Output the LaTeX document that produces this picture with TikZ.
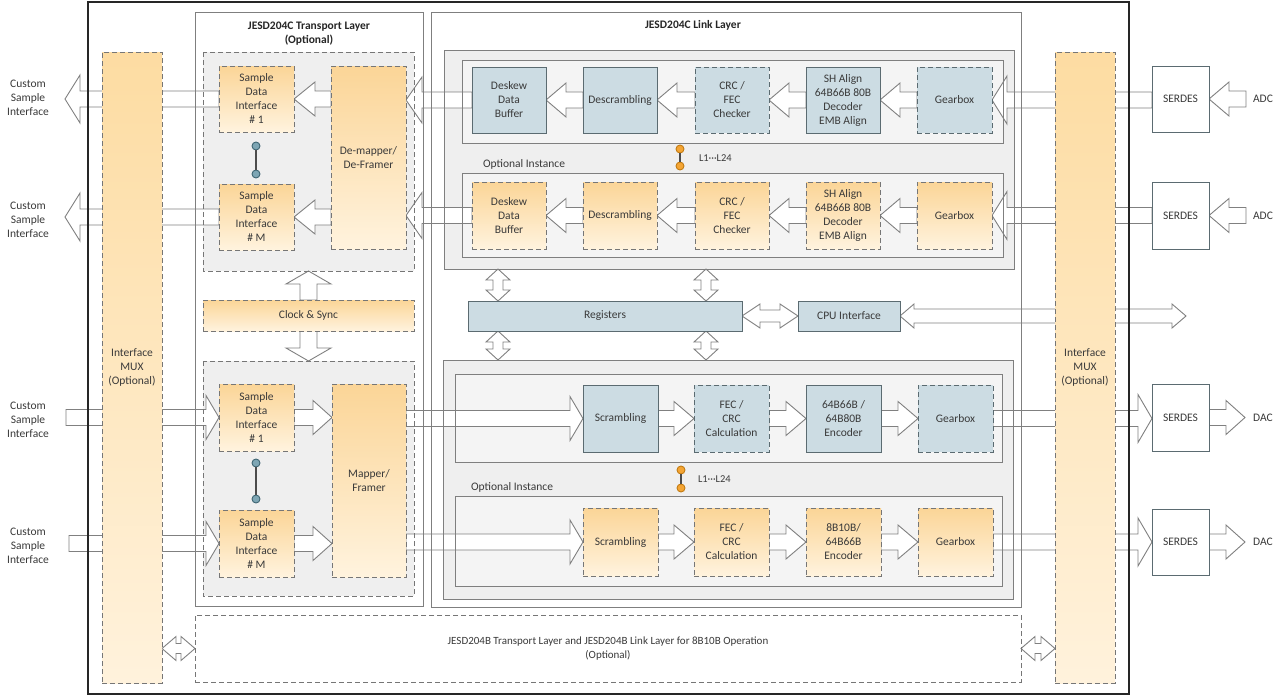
\documentclass[tikz,border=0pt]{standalone}
\usepackage{fontspec}
\setmainfont{Carlito}
\usetikzlibrary{calc}
\pgfdeclarelayer{base}
\pgfdeclarelayer{fills}
\pgfdeclarelayer{arrs}
\pgfdeclarelayer{lines}
\pgfsetlayers{base,fills,arrs,lines,main}

\definecolor{bluefill}{HTML}{CCDCE3}
\definecolor{blueedge}{HTML}{5B6B71}
\definecolor{orTop}{HTML}{FBD597}
\definecolor{orBot}{HTML}{FFF3DE}
\definecolor{muxTop}{HTML}{FDDCA2}
\definecolor{muxBot}{HTML}{FFF2DC}
\definecolor{regfill}{HTML}{EFEFEF}
\definecolor{instfill}{HTML}{F4F4F4}
\definecolor{edgegray}{HTML}{7F7F7F}
\definecolor{dashgray}{HTML}{767676}
\definecolor{txt}{HTML}{3A3A3A}
\definecolor{dotblue}{HTML}{7EA6B4}
\definecolor{dotblueedge}{HTML}{3F6673}
\definecolor{dotor}{HTML}{F4A534}
\definecolor{dotoredge}{HTML}{C27B12}
\definecolor{arrgray}{HTML}{808080}

\newcommand{\harr}[5]{%
  \path[barrow] let \p1=#1, \p2=#2, \n1={ifthenelse(\x2>\x1,1,-1)} in
    (\x1,{\y2+#3pt}) -- ({\x2-(\n1)*#5pt},{\y2+#3pt}) -- ({\x2-(\n1)*#5pt},{\y2+#4pt})
    -- (\x2,\y2) -- ({\x2-(\n1)*#5pt},{\y2-#4pt}) -- ({\x2-(\n1)*#5pt},{\y2-#3pt})
    -- (\x1,{\y2-#3pt}) -- cycle;}
\newcommand{\hdarr}[5]{%
  \path[barrow] let \p1=#1, \p2=#2, \n1={ifthenelse(\x2>\x1,1,-1)} in
    (\x1,\y2) -- ({\x1+(\n1)*#5pt},{\y2+#4pt}) -- ({\x1+(\n1)*#5pt},{\y2+#3pt})
    -- ({\x2-(\n1)*#5pt},{\y2+#3pt}) -- ({\x2-(\n1)*#5pt},{\y2+#4pt}) -- (\x2,\y2)
    -- ({\x2-(\n1)*#5pt},{\y2-#4pt}) -- ({\x2-(\n1)*#5pt},{\y2-#3pt})
    -- ({\x1+(\n1)*#5pt},{\y2-#3pt}) -- ({\x1+(\n1)*#5pt},{\y2-#4pt}) -- cycle;}
\newcommand{\varr}[5]{%
  \path[barrow] let \p1=#1, \p2=#2, \n1={ifthenelse(\y2>\y1,1,-1)} in
    ({\x2+#3pt},\y1) -- ({\x2+#3pt},{\y2-(\n1)*#5pt}) -- ({\x2+#4pt},{\y2-(\n1)*#5pt})
    -- (\x2,\y2) -- ({\x2-#4pt},{\y2-(\n1)*#5pt}) -- ({\x2-#3pt},{\y2-(\n1)*#5pt})
    -- ({\x2-#3pt},\y1) -- cycle;}
\newcommand{\vdarr}[5]{%
  \path[barrow] let \p1=#1, \p2=#2, \n1={ifthenelse(\y2>\y1,1,-1)} in
    (\x2,\y1) -- ({\x2+#4pt},{\y1+(\n1)*#5pt}) -- ({\x2+#3pt},{\y1+(\n1)*#5pt})
    -- ({\x2+#3pt},{\y2-(\n1)*#5pt}) -- ({\x2+#4pt},{\y2-(\n1)*#5pt}) -- (\x2,\y2)
    -- ({\x2-#4pt},{\y2-(\n1)*#5pt}) -- ({\x2-#3pt},{\y2-(\n1)*#5pt})
    -- ({\x2-#3pt},{\y1+(\n1)*#5pt}) -- ({\x2-#4pt},{\y1+(\n1)*#5pt}) -- cycle;}

\tikzset{
  every node/.style={font=\fontsize{11.5}{14}\selectfont, text=txt, align=center, inner sep=0pt, outer sep=0pt},
  barrow/.style={fill=white, draw=arrgray, line width=0.9pt, line join=miter},
  blk/.style={draw=blueedge, line width=1pt, fill=bluefill},
  blkd/.style={blk, dash pattern=on 5pt off 3pt},
  orblk/.style={draw=dashgray, line width=1pt, dash pattern=on 5pt off 3pt, top color=orTop, bottom color=orBot},
  muxblk/.style={draw=dashgray, line width=1pt, dash pattern=on 5pt off 3pt, top color=muxTop, bottom color=muxBot},
  serblk/.style={draw=blueedge, line width=1pt, fill=white},
  regf/.style={fill=regfill, draw=none},
  instf/.style={fill=instfill, draw=none},
  solidedge/.style={draw=edgegray, line width=1pt},
  dashedge/.style={draw=dashgray, line width=1pt, dash pattern=on 5pt off 3pt},
  dotb/.style={circle, minimum size=8pt, fill=dotblue, draw=dotblueedge, line width=0.9pt},
  doto/.style={circle, minimum size=8pt, fill=dotor, draw=dotoredge, line width=0.9pt},
  dotline/.style={draw=black!70, line width=1.2pt},
  ttl/.style={font=\fontsize{11.5}{14}\selectfont\bfseries, text=black!85},
}

\begin{document}
\begin{tikzpicture}[x=1pt, y=-1pt]
\useasboundingbox (0,0) rectangle (1280,696);
\begin{pgfonlayer}{base}
  \fill[white] (0,0) rectangle (1280,696);
\end{pgfonlayer}

% ---------- region fills ----------
\begin{pgfonlayer}{fills}
  \node[regf, minimum width=211pt, minimum height=219pt] (trUp) at (308.5,161.5) {};
  \node[regf, minimum width=211pt, minimum height=235pt] (trLo) at (308.5,478.5) {};
  \node[regf, minimum width=570pt, minimum height=219pt] (linkUp) at (729,159.5) {};
  \node[regf, minimum width=570pt, minimum height=239pt] (linkLo) at (728,479.5) {};
  \node[instf, minimum width=541pt, minimum height=83pt] (inst1) at (732.5,101.5) {};
  \node[instf, minimum width=541pt, minimum height=84pt] (inst2) at (732.5,215) {};
  \node[instf, minimum width=547pt, minimum height=88pt] (inst3) at (728.5,418) {};
  \node[instf, minimum width=547pt, minimum height=90pt] (inst4) at (728.5,541) {};
\end{pgfonlayer}

% ---------- region outlines and layer frames ----------
\begin{pgfonlayer}{lines}
  \draw[dashedge] (trUp.north west) rectangle (trUp.south east);
  \draw[dashedge] (trLo.north west) rectangle (trLo.south east);
  \draw[solidedge] (linkUp.north west) rectangle (linkUp.south east);
  \draw[solidedge] (linkLo.north west) rectangle (linkLo.south east);
  \draw[solidedge] (inst1.north west) rectangle (inst1.south east);
  \draw[solidedge] (inst2.north west) rectangle (inst2.south east);
  \draw[solidedge] (inst3.north west) rectangle (inst3.south east);
  \draw[solidedge] (inst4.north west) rectangle (inst4.south east);
  \draw[solidedge] (195,12) rectangle (423,606);
  \draw[solidedge] (431,12) rectangle (1021,607);
  \draw[line width=1.7pt, black!85] (88,2) rectangle (1129,694);
\end{pgfonlayer}

% ---------- titles ----------
\node[ttl] (ttr) at (309,34) {JESD204C Transport Layer\\(Optional)};
\node[ttl] (tlk) at (693,25) {JESD204C Link Layer};

% ---------- interface MUX ----------
\node[muxblk, minimum width=60pt, minimum height=631pt] (muxL) at (132,367.5) {Interface\\MUX\\(Optional)};
\node[muxblk, minimum width=60pt, minimum height=631pt] (muxR) at (1085,367.5) {Interface\\MUX\\(Optional)};

% ---------- transport layer ----------
\node[orblk, minimum width=75pt, minimum height=66pt] (sdiR1) at (256.5,99) {Sample\\Data\\Interface\\\# 1};
\node[orblk, minimum width=75pt, minimum height=66pt] (sdiRM) at (256.5,217) {Sample\\Data\\Interface\\\# M};
\node[orblk, minimum width=75pt, minimum height=183pt] (demap) at (368.5,157.5) {De-mapper/\\De-Framer};
\node[orblk, minimum width=211pt, minimum height=31pt] (clk) at (308.5,315.5) {Clock \& Sync};
\node[orblk, minimum width=75pt, minimum height=67pt] (sdiT1) at (256.5,417.5) {Sample\\Data\\Interface\\\# 1};
\node[orblk, minimum width=75pt, minimum height=67pt] (sdiTM) at (256.5,543.5) {Sample\\Data\\Interface\\\# M};
\node[orblk, minimum width=74pt, minimum height=193pt] (mapper) at (369,480.5) {Mapper/\\Framer};

\node[dotb] (db1) at (256,146) {};
\node[dotb] (db2) at (256,174) {};
\draw[dotline] (db1) -- (db2);
\node[dotb] (db3) at (256,463) {};
\node[dotb] (db4) at (256,499) {};
\draw[dotline] (db3) -- (db4);

% ---------- link layer RX ----------
\node[blk, minimum width=74pt, minimum height=66pt] (desk1) at (509,100) {Deskew\\Data\\Buffer};
\node[blk, minimum width=74pt, minimum height=66pt] (desc1) at (620,100) {Descrambling};
\node[blkd, minimum width=74pt, minimum height=66pt] (crc1) at (732,100) {CRC /\\FEC\\Checker};
\node[blk, minimum width=74pt, minimum height=66pt] (sh1) at (843,100) {SH Align\\64B66B 80B\\Decoder\\EMB Align};
\node[blkd, minimum width=75pt, minimum height=66pt] (gb1) at (954.5,100) {Gearbox};

\node[orblk, minimum width=74pt, minimum height=67pt] (desk2) at (509,215.5) {Deskew\\Data\\Buffer};
\node[orblk, minimum width=74pt, minimum height=67pt] (desc2) at (620,215.5) {Descrambling};
\node[orblk, minimum width=74pt, minimum height=67pt] (crc2) at (732,215.5) {CRC /\\FEC\\Checker};
\node[orblk, minimum width=74pt, minimum height=67pt] (sh2) at (843,215.5) {SH Align\\64B66B 80B\\Decoder\\EMB Align};
\node[orblk, minimum width=75pt, minimum height=67pt] (gb2) at (954.5,215.5) {Gearbox};

\node[anchor=west] (oi1) at (483,164) {Optional Instance};
\node[doto] (do1) at (680,149) {};
\node[doto] (do2) at (680,166) {};
\draw[dotline] (do1) -- (do2);
\node[anchor=west, font=\fontsize{10.5}{12}\selectfont] (l1) at (699,158) {L1{·}{·}{·}L24};

% ---------- registers ----------
\node[blk, minimum width=274pt, minimum height=30pt] (reg) at (605,316) {Registers};
\node[blk, minimum width=102pt, minimum height=30pt] (cpu) at (849,316) {CPU Interface};

% ---------- link layer TX ----------
\node[blk, minimum width=75pt, minimum height=67pt] (scr1) at (620.5,418.5) {Scrambling};
\node[blkd, minimum width=75pt, minimum height=67pt] (fec1) at (731.5,418.5) {FEC /\\CRC\\Calculation};
\node[blk, minimum width=75pt, minimum height=67pt] (enc1) at (843.5,418.5) {64B66B /\\64B80B\\Encoder};
\node[blkd, minimum width=75pt, minimum height=67pt] (gbT1) at (955.5,418.5) {Gearbox};

\node[orblk, minimum width=75pt, minimum height=68pt] (scr2) at (620.5,542) {Scrambling};
\node[orblk, minimum width=75pt, minimum height=68pt] (fec2) at (731.5,542) {FEC /\\CRC\\Calculation};
\node[orblk, minimum width=75pt, minimum height=68pt] (enc2) at (843.5,542) {8B10B/\\64B66B\\Encoder};
\node[orblk, minimum width=75pt, minimum height=68pt] (gbT2) at (955.5,542) {Gearbox};

\node[anchor=west] (oi2) at (471,487) {Optional Instance};
\node[doto] (do3) at (681,470) {};
\node[doto] (do4) at (681,488) {};
\draw[dotline] (do3) -- (do4);
\node[anchor=west, font=\fontsize{10.5}{12}\selectfont] (l2) at (698,479) {L1{·}{·}{·}L24};

% ---------- bottom JESD204B box ----------
\node[dashedge, minimum width=826pt, minimum height=67pt, font=\fontsize{11}{14}\selectfont] (b8) at (608,648.5)
  {JESD204B Transport Layer and JESD204B Link Layer for 8B10B Operation\\(Optional)};

% ---------- SERDES ----------
\node[serblk, minimum width=57pt, minimum height=66pt] (serA1) at (1180.5,99) {SERDES};
\node[serblk, minimum width=57pt, minimum height=67pt] (serA2) at (1180.5,215.5) {SERDES};
\node[serblk, minimum width=57pt, minimum height=67pt] (serD1) at (1180.5,417.5) {SERDES};
\node[serblk, minimum width=57pt, minimum height=66pt] (serD2) at (1180.5,542) {SERDES};

\node (adc1) at (1263,99) {ADC};
\node (adc2) at (1263,215.5) {ADC};
\node (dac1) at (1263,417.5) {DAC};
\node (dac2) at (1263,542) {DAC};

\node (cs1) at (28,98) {Custom\\Sample\\Interface};
\node (cs2) at (28,220) {Custom\\Sample\\Interface};
\node (cs3) at (28,420) {Custom\\Sample\\Interface};
\node (cs4) at (28,546) {Custom\\Sample\\Interface};

% ---------- free arrow ends ----------
\coordinate (o1) at (65,99);
\coordinate (o2) at (65,217);
\coordinate (i1) at (66,417.5);
\coordinate (i2) at (69,543.5);
\coordinate (adc1c) at (1246,99);
\coordinate (adc2c) at (1246,215.5);
\coordinate (dac1c) at (1245,417.5);
\coordinate (dac2c) at (1245,542);
\coordinate (cpuo) at (1186,316);
\coordinate (va) at (498,0);
\coordinate (vb) at (706,0);

% ---------- arrows ----------
\begin{pgfonlayer}{arrs}
  % transport RX
  \harr{(sdiR1.west)}{(o1)}{8}{24}{15}
  \harr{(sdiRM.west)}{(o2)}{8}{24}{15}
  \harr{(demap.west |- sdiR1)}{(sdiR1.east)}{8}{17}{21}
  \harr{(demap.west |- sdiRM)}{(sdiRM.east)}{8}{17}{21}
  \harr{(desk1.west)}{(demap.east |- desk1)}{8}{23}{16}
  \harr{(desk2.west)}{(demap.east |- desk2)}{8}{23}{16}
  % link RX chains
  \harr{(desc1.west)}{(desk1.east)}{8}{17}{20}
  \harr{(crc1.west)}{(desc1.east)}{8}{17}{20}
  \harr{(sh1.west)}{(crc1.east)}{8}{17}{20}
  \harr{(gb1.west)}{(sh1.east)}{8}{17}{20}
  \harr{(desc2.west)}{(desk2.east)}{8}{17}{20}
  \harr{(crc2.west)}{(desc2.east)}{8}{17}{20}
  \harr{(sh2.west)}{(crc2.east)}{8}{17}{20}
  \harr{(gb2.west)}{(sh2.east)}{8}{17}{20}
  \harr{(serA1.west)}{(gb1.east)}{8}{24}{15}
  \harr{(serA2.west)}{(gb2.east)}{8}{24}{15}
  \harr{(adc1c)}{(serA1.east)}{8}{17}{20}
  \harr{(adc2c)}{(serA2.east)}{8}{17}{20}
  % clock & sync
  \varr{(clk.north)}{(clk.north |- trUp.south)}{8.5}{22.5}{13}
  \varr{(clk.south)}{(clk.south |- trLo.north)}{8.5}{22.5}{13}
  % registers
  \vdarr{(va |- linkUp.south)}{(va |- reg.north)}{5}{12}{11}
  \vdarr{(vb |- linkUp.south)}{(vb |- reg.north)}{5}{12}{11}
  \vdarr{(va |- reg.south)}{(va |- linkLo.north)}{5}{12}{11}
  \vdarr{(vb |- reg.south)}{(vb |- linkLo.north)}{5}{12}{11}
  \hdarr{(reg.east)}{(cpu.west)}{6}{12}{18}
  \hdarr{(cpu.east)}{(cpuo)}{7}{12}{14}
  % transport TX
  \harr{(i1)}{(sdiT1.west)}{8}{22}{13}
  \harr{(i2)}{(sdiTM.west)}{8}{22}{13}
  \harr{(sdiT1.east)}{(mapper.west |- sdiT1)}{8}{17}{19}
  \harr{(sdiTM.east)}{(mapper.west |- sdiTM)}{8}{17}{19}
  \harr{(mapper.east |- scr1)}{(scr1.west)}{8}{22}{13}
  \harr{(mapper.east |- scr2)}{(scr2.west)}{8}{22}{13}
  % link TX chains
  \harr{(scr1.east)}{(fec1.west)}{8}{17}{20}
  \harr{(fec1.east)}{(enc1.west)}{8}{17}{20}
  \harr{(enc1.east)}{(gbT1.west)}{8}{17}{20}
  \harr{(scr2.east)}{(fec2.west)}{8}{17}{20}
  \harr{(fec2.east)}{(enc2.west)}{8}{17}{20}
  \harr{(enc2.east)}{(gbT2.west)}{8}{17}{20}
  \harr{(gbT1.east)}{(serD1.west |- gbT1)}{8}{24}{14}
  \harr{(gbT2.east)}{(serD2.west |- gbT2)}{8}{24}{14}
  \harr{(serD1.east)}{(dac1c)}{8}{17}{19}
  \harr{(serD2.east)}{(dac2c)}{8}{17}{19}
  % JESD204B box
  \hdarr{(muxL.east |- b8)}{(b8.west)}{5}{12}{14}
  \hdarr{(b8.east)}{(muxR.west |- b8)}{5}{12}{14}
\end{pgfonlayer}
\end{tikzpicture}
\end{document}
